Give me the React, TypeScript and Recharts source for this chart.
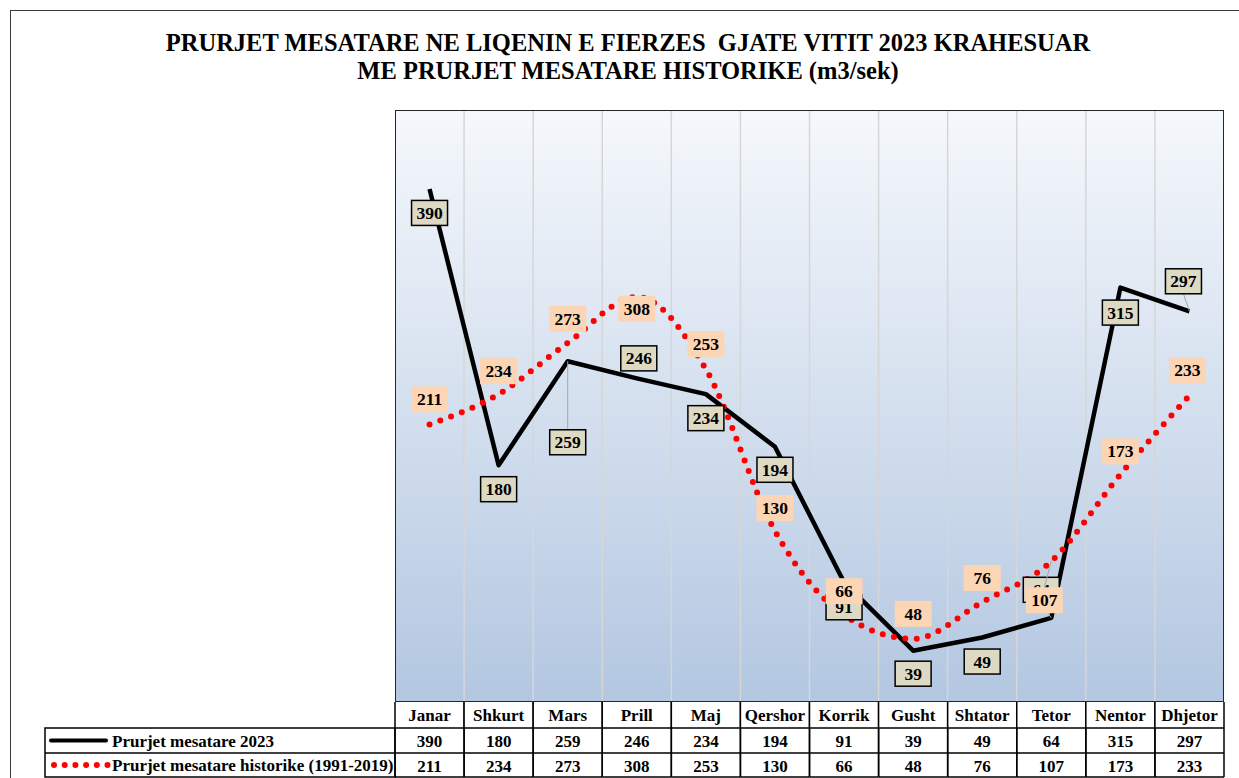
import { CartesianGrid, LabelList, Line, LineChart, XAxis, YAxis } from 'recharts';

const months = ['Janar', 'Shkurt', 'Mars', 'Prill', 'Maj', 'Qershor', 'Korrik', 'Gusht', 'Shtator', 'Tetor', 'Nentor', 'Dhjetor'];
const flow2023 = [390, 180, 259, 246, 234, 194, 91, 39, 49, 64, 315, 297];
const flowHistoric = [211, 234, 273, 308, 253, 130, 66, 48, 76, 107, 173, 233];

const name2023 = 'Prurjet mesatare 2023';
const nameHistoric = 'Prurjet mesatare historike (1991-2019)';
const titleLines = ['PRURJET MESATARE NE LIQENIN E FIERZES  GJATE VITIT 2023 KRAHESUAR', 'ME PRURJET MESATARE HISTORIKE (m3/sek)'];

// label nudges (dx, dy) relative to the point, as placed in the original
const offs2023 = [[0, 24], [0, 24], [0, 81], [2, -20], [0, 24], [0, 23], [0, 25], [0, 23], [0, 24], [-10, -28], [0, 25], [-6, -30]];
const offsHist = [[0, -25], [0, -23], [0, -24], [0, 12], [0, -25], [0, -23], [0, -24], [0, -25], [0, -24], [-7, 39], [0, -23], [-2, -25]];

const rows = months.map((m, i) => ({ month: m, a: flow2023[i], h: flowHistoric[i] }));

const W = 1239;
const H = 778;
const M = { top: 110, right: 15, left: 395, bottom: 0 };
const PLOT_W = W - M.left - M.right;
const CELL_W = PLOT_W / months.length;
const FONT = '"Liberation Serif", "Times New Roman", serif';

function makeLabel(offs: number[][], boxed: boolean) {
  return (p: any) => {
    const { x, y, value, index } = p;
    const [dx, dy] = offs[index];
    const cx = x + dx;
    const cy = y + dy;
    const w = boxed ? 36 : 37;
    const h = boxed ? 25 : 26;
    const lead = Math.abs(dy) > 27;
    return (
      <g>
        {lead && (
          <line x1={x} y1={y} x2={cx} y2={dy > 0 ? cy - h / 2 : cy + h / 2} stroke='#A6A6A6' strokeWidth={1} />
        )}
        <rect
          x={cx - w / 2}
          y={cy - h / 2}
          width={w}
          height={h}
          fill={boxed ? '#DDD9C3' : '#FCD5B5'}
          stroke={boxed ? '#000' : 'none'}
          strokeWidth={1.5}
        />
        <text x={cx} y={cy + 6} textAnchor='middle' fontFamily={FONT} fontWeight='bold' fontSize={17.5} fill='#000'>
          {value}
        </text>
      </g>
    );
  };
}

function TableTick(props: any) {
  const { x, y, payload } = props;
  const i = payload.index;
  const l = x - CELL_W / 2;
  const r = x + CELL_W / 2;
  const r1 = y + 26;
  const r2 = y + 51;
  const r3 = y + 75;
  const txt = { fontFamily: FONT, fontWeight: 'bold', fontSize: 17, fill: '#000', textAnchor: 'middle' as const };
  return (
    <g>
      {i === 0 && (
        <g>
          <rect x={45} y={r1} width={l - 45} height={r3 - r1} fill='#fff' stroke='#000' strokeWidth={1.5} />
          <line x1={45} y1={r2} x2={l} y2={r2} stroke='#000' strokeWidth={1.5} />
          <line x1={51} y1={(r1 + r2) / 2} x2={106} y2={(r1 + r2) / 2} stroke='#000' strokeWidth={4} strokeLinecap='round' />
          <line x1={54} y1={(r2 + r3) / 2} x2={108} y2={(r2 + r3) / 2} stroke='#FF0000' strokeWidth={6} strokeLinecap='round' strokeDasharray='0 10.7' />
          <text x={112} y={(r1 + r2) / 2 + 6} fontFamily={FONT} fontWeight='bold' fontSize={17}>{name2023}</text>
          <text x={112} y={(r2 + r3) / 2 + 6} fontFamily={FONT} fontWeight='bold' fontSize={17}>{nameHistoric}</text>
        </g>
      )}
      <rect x={l} y={y} width={CELL_W} height={r1 - y} fill='#fff' />
      <line x1={l} y1={y} x2={l} y2={r3} stroke='#000' strokeWidth={1.5} />
      <line x1={r} y1={y} x2={r} y2={r3} stroke='#000' strokeWidth={1.5} />
      <line x1={l} y1={r1} x2={r} y2={r1} stroke='#000' strokeWidth={1.5} />
      <line x1={l} y1={r2} x2={r} y2={r2} stroke='#000' strokeWidth={1.5} />
      <line x1={l} y1={r3} x2={r} y2={r3} stroke='#000' strokeWidth={1.5} />
      <text x={x} y={y + 19} {...txt}>{payload.value}</text>
      <text x={x} y={r1 + 19} {...txt}>{flow2023[i]}</text>
      <text x={x} y={r2 + 19} {...txt}>{flowHistoric[i]}</text>
    </g>
  );
}

export default function App() {
  return (
    <div style={{ position: 'absolute', left: 0, top: 0, width: W, height: H, overflow: 'hidden', background: '#fff' }}>
      <div
        style={{
          position: 'absolute',
          left: 10,
          top: 10,
          width: 1300,
          height: 900,
          border: '1.5px solid #3a3a3a',
        }}
      />
      <div
        style={{
          position: 'absolute',
          left: 0,
          top: 29,
          width: 1256,
          textAlign: 'center',
          fontFamily: FONT,
          fontWeight: 'bold',
          fontSize: 24.5,
          lineHeight: '28px',
          whiteSpace: 'pre',
          color: '#000',
        }}
      >
        {titleLines.map((t) => (
          <div key={t}>{t}</div>
        ))}
      </div>
      <div style={{ position: 'absolute', left: 0, top: 0 }}>
        <LineChart width={W} height={H} data={rows} margin={M}>
          <defs>
            <linearGradient id='plotBg' x1='0' y1='0' x2='0' y2='1'>
              <stop offset='0' stopColor='#F5F8FC' />
              <stop offset='1' stopColor='#B3C7E1' />
            </linearGradient>
          </defs>
          <CartesianGrid
            horizontal={false}
            fill='url(#plotBg)'
            stroke='#D6D6D6'
            strokeWidth={1.5}
            verticalCoordinatesGenerator={({ offset }: any) =>
              months.slice(1).map((_, k) => offset.left + ((k + 1) * offset.width) / months.length)
            }
          />
          <XAxis
            dataKey='month'
            height={76}
            axisLine={false}
            tickLine={false}
            tickSize={0}
            tickMargin={0}
            interval={0}
            padding={{ left: CELL_W / 2, right: CELL_W / 2 }}
            tick={<TableTick />}
          />
          <YAxis hide domain={[0, 450]} />
          <Line
            dataKey='a'
            name={name2023}
            type='linear'
            stroke='#000'
            strokeWidth={4.5}
            strokeLinejoin='round'
            dot={false}
            activeDot={false}
            isAnimationActive={false}
          />
          <Line
            dataKey='h'
            name={nameHistoric}
            type='monotone'
            stroke='#FF0000'
            strokeWidth={6}
            strokeLinecap='round'
            strokeDasharray='0 11.5'
            dot={false}
            activeDot={false}
            isAnimationActive={false}
          />
          <Line dataKey='a' stroke='none' dot={false} activeDot={false} isAnimationActive={false}>
            <LabelList dataKey='a' content={makeLabel(offs2023, true)} />
          </Line>
          <Line dataKey='h' stroke='none' dot={false} activeDot={false} isAnimationActive={false}>
            <LabelList dataKey='h' content={makeLabel(offsHist, false)} />
          </Line>
        </LineChart>
      </div>
      <div
        style={{
          position: 'absolute',
          left: M.left,
          top: M.top,
          width: PLOT_W,
          height: H - M.top - 76,
          boxSizing: 'border-box',
          border: '1.5px solid #262626',
          pointerEvents: 'none',
        }}
      />
    </div>
  );
}
